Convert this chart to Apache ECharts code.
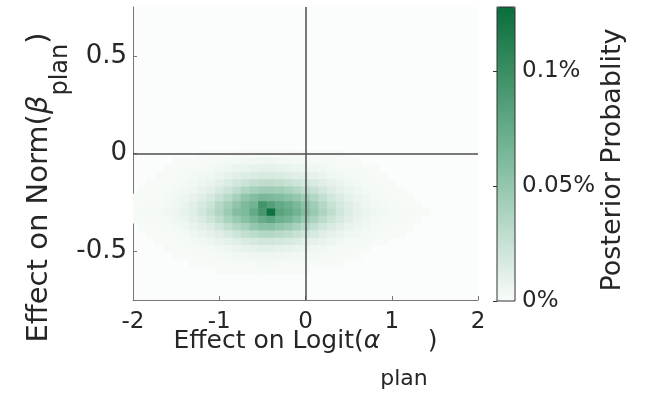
<!DOCTYPE html>
<html>
<head>
<meta charset="utf-8">
<script src="https://cdn.jsdelivr.net/npm/echarts@6/dist/echarts.min.js"></script>
<style>
    html, body {margin: 0; padding: 0; background: #fff;}
    #chart {width: 656px; height: 396px;}
</style>
</head>
<body>
<div id="chart"></div>
<script>
// bin centres of the 2-D posterior histogram
const xCenters = [-2.0, -1.9, -1.8, -1.7, -1.6, -1.5, -1.4, -1.3, -1.2, -1.1, -1.0, -0.9, -0.8, -0.7, -0.6, -0.5, -0.4, -0.3, -0.2, -0.1,
    0.0, 0.1, 0.2, 0.3, 0.4, 0.5, 0.6, 0.7, 0.8, 0.9, 1.0, 1.1, 1.2, 1.3, 1.4, 1.5, 1.6, 1.7, 1.8, 1.9, 2.0]
const yCenters = [0, -0.0375, -0.075, -0.1125, -0.15, -0.1875, -0.225, -0.2625, -0.3, -0.3375, -0.375, -0.4125, -0.45, -0.4875, -0.525, -0.5625, -0.6]

// posterior probability per bin, thousandths of a percent (one row per yCenters entry, columns follow xCenters)
const probRows = [
    [0, 0, 0, 0, 0, 0, 0, 0, 1, 1, 1, 1, 2, 2, 2, 2, 2, 2, 2, 2, 1, 1, 1, 1, 1, 0, 0, 0, 0, 0, 0, 0, 0, 0, 0, 0, 0],
    [0, 0, 0, 0, 0, 1, 1, 1, 1, 2, 2, 3, 3, 4, 4, 5, 5, 4, 4, 3, 3, 2, 2, 2, 1, 1, 1, 0, 0, 0, 0, 0, 0, 0, 0, 0, 0],
    [0, 0, 0, 0, 1, 1, 1, 2, 2, 3, 4, 5, 7, 8, 9, 10, 10, 9, 8, 7, 6, 5, 4, 3, 2, 2, 1, 1, 1, 0, 0, 0, 0, 0, 0, 0, 0],
    [0, 0, 0, 1, 1, 1, 2, 3, 4, 5, 7, 9, 12, 14, 16, 17, 17, 16, 14, 12, 11, 9, 7, 5, 4, 3, 2, 2, 1, 1, 0, 0, 0, 0, 0, 0, 0],
    [0, 0, 1, 1, 1, 2, 3, 4, 6, 8, 11, 15, 19, 23, 27, 29, 30, 28, 25, 22, 19, 16, 12, 9, 7, 5, 3, 2, 2, 1, 1, 0, 0, 0, 0, 0, 0],
    [0, 1, 1, 1, 2, 3, 4, 6, 9, 12, 17, 22, 29, 36, 41, 44, 45, 43, 39, 35, 30, 25, 19, 14, 10, 7, 5, 3, 2, 2, 1, 1, 0, 0, 0, 0, 0],
    [1, 1, 1, 2, 3, 4, 6, 9, 13, 18, 25, 32, 41, 52, 58, 64, 62, 60, 55, 50, 43, 35, 27, 20, 14, 10, 7, 5, 3, 2, 2, 1, 1, 0, 0, 0, 0],
    [1, 1, 2, 2, 3, 5, 8, 12, 17, 24, 33, 42, 52, 62, 68, 95, 85, 76, 71, 63, 54, 44, 34, 25, 18, 13, 9, 6, 4, 3, 2, 2, 1, 1, 0, 0, 0],
    [1, 2, 2, 3, 4, 6, 9, 13, 19, 27, 36, 46, 58, 62, 76, 92, 125, 82, 76, 68, 58, 48, 38, 29, 21, 15, 10, 7, 5, 4, 3, 2, 2, 1, 1, 0, 0],
    [1, 1, 2, 2, 3, 5, 7, 11, 16, 22, 30, 39, 48, 56, 64, 74, 80, 70, 66, 57, 48, 39, 31, 23, 17, 12, 8, 6, 4, 3, 2, 2, 1, 1, 0, 0, 0],
    [0, 1, 1, 2, 2, 3, 5, 8, 11, 15, 21, 28, 35, 40, 50, 55, 56, 51, 46, 40, 34, 27, 21, 16, 12, 8, 6, 4, 3, 2, 2, 1, 1, 0, 0, 0, 0],
    [0, 0, 1, 1, 1, 2, 3, 5, 7, 10, 13, 17, 22, 27, 31, 34, 35, 32, 29, 25, 21, 17, 13, 10, 7, 5, 4, 3, 2, 1, 1, 1, 0, 0, 0, 0, 0],
    [0, 0, 0, 1, 1, 1, 2, 3, 4, 6, 8, 10, 13, 16, 18, 20, 20, 19, 17, 15, 12, 10, 8, 6, 4, 3, 2, 2, 1, 1, 0, 0, 0, 0, 0, 0, 0],
    [0, 0, 0, 0, 1, 1, 1, 2, 2, 3, 4, 6, 7, 9, 10, 11, 11, 10, 9, 8, 7, 5, 4, 3, 2, 2, 1, 1, 0, 0, 0, 0, 0, 0, 0, 0, 0],
    [0, 0, 0, 0, 0, 1, 1, 1, 1, 2, 2, 3, 4, 4, 5, 5, 5, 5, 4, 4, 3, 3, 2, 2, 1, 1, 1, 0, 0, 0, 0, 0, 0, 0, 0, 0, 0],
    [0, 0, 0, 0, 0, 0, 0, 1, 1, 1, 1, 1, 2, 2, 2, 3, 3, 2, 2, 2, 2, 1, 1, 1, 1, 0, 0, 0, 0, 0, 0, 0, 0, 0, 0, 0, 0],
    [0, 0, 0, 0, 0, 0, 0, 0, 0, 0, 1, 1, 1, 1, 1, 1, 1, 1, 1, 1, 1, 0, 0, 0, 0, 0, 0, 0, 0, 0, 0, 0, 0, 0, 0, 0, 0]
]

const xTicks = [-2, -1, 0, 1, 2]
const yTicks = [-0.5, 0, 0.5]
const cbarTicks = [0, 0.05, 0.1]
const cbarMax = 0.128
const binW = 0.1
const binH = 0.0375

const font = 'DejaVu Sans'
const textColor = '#262626'
const axisGray = '#777'

const cells = []
probRows.forEach((row, r) => {
    row.forEach((v, c) => {
        if (v > 0) cells.push([xCenters[c], yCenters[r], v / 1000])
    })
})

const renderCell = (params, api) => {
    const x = api.value(0)
    const y = api.value(1)
    const p0 = api.coord([x - binW / 2, y + binH / 2])
    const p1 = api.coord([x + binW / 2, y - binH / 2])
    const rect = echarts.graphic.clipRectByRect({
        x: p0[0],
        y: p0[1],
        width: p1[0] - p0[0] + 0.5,
        height: p1[1] - p0[1] + 0.5
    }, {
        x: params.coordSys.x,
        y: params.coordSys.y,
        width: params.coordSys.width,
        height: params.coordSys.height
    })
    return rect && {
        type: 'rect',
        shape: rect,
        style: {fill: api.visual('color')}
    }
}

const chart = echarts.init(document.getElementById('chart'), null, {renderer: 'canvas'})

chart.setOption({
    animation: false,
    textStyle: {fontFamily: font, color: textColor},
    grid: [
        {left: 133, top: 7, width: 345, height: 293, show: true, borderWidth: 0, backgroundColor: '#fbfdfc'},
        {left: 497, top: 7, width: 18, height: 294, show: true, borderColor: '#333', borderWidth: 1, backgroundColor: 'transparent', z: 10}
    ],
    xAxis: [
        {
            type: 'value',
            gridIndex: 0,
            min: -2,
            max: 2,
            interval: 1,
            axisLine: {onZero: false, lineStyle: {color: axisGray, width: 1}},
            axisTick: {inside: true, length: 4, lineStyle: {color: axisGray}, customValues: xTicks},
            axisLabel: {fontSize: 23, color: textColor, margin: 11, fontFamily: font, customValues: xTicks},
            splitLine: {show: false},
            name: '{t|Effect on Logit(}{g|α}{s|plan}{t|)}',
            nameLocation: 'middle',
            nameGap: 29,
            nameMoveOverlap: false,
            nameTextStyle: {
                color: textColor,
                rich: {
                    t: {fontSize: 25, fontFamily: font, color: textColor, verticalAlign: 'middle', padding: [0, 0, 38, 0]},
                    g: {fontSize: 25, fontFamily: font, fontStyle: 'italic', color: textColor, verticalAlign: 'middle', padding: [0, 0, 38, 0]},
                    s: {fontSize: 22, fontFamily: font, color: textColor, verticalAlign: 'middle', padding: [38, 0, 0, 0]}
                }
            }
        },
        {type: 'value', gridIndex: 1, min: 0, max: 1, show: false}
    ],
    yAxis: [
        {
            type: 'value',
            gridIndex: 0,
            min: -0.75,
            max: 0.75,
            axisLine: {show: true, onZero: false, lineStyle: {color: axisGray, width: 1}},
            axisTick: {show: true, inside: true, length: 4, lineStyle: {color: axisGray}, customValues: yTicks},
            axisLabel: {fontSize: 26, color: textColor, margin: 6, fontFamily: font, customValues: yTicks},
            splitLine: {show: false},
            name: '{t|Effect on Norm(}{g|β}{s|plan}{t|)}',
            nameLocation: 'middle',
            nameRotate: 90,
            nameGap: 58,
            nameMoveOverlap: false,
            nameTextStyle: {
                color: textColor,
                padding: [0, 68, 0, 0],
                rich: {
                    t: {fontSize: 29, fontFamily: font, color: textColor, verticalAlign: 'middle', padding: [0, 0, 21, 0]},
                    g: {fontSize: 29, fontFamily: font, fontStyle: 'italic', color: textColor, verticalAlign: 'middle', padding: [0, 0, 21, 0]},
                    s: {fontSize: 24, fontFamily: font, color: textColor, verticalAlign: 'middle', padding: [21, 0, 0, 0]}
                }
            }
        },
        {
            type: 'value',
            gridIndex: 1,
            position: 'right',
            min: 0,
            max: cbarMax,
            axisLine: {show: false},
            axisTick: {show: true, inside: true, length: 4, lineStyle: {color: '#333'}, customValues: cbarTicks},
            axisLabel: {
                fontSize: 23,
                color: textColor,
                margin: 7,
                fontFamily: font,
                customValues: cbarTicks,
                formatter: v => v + '%'
            },
            splitLine: {show: false},
            name: 'Posterior Probablity',
            nameLocation: 'middle',
            nameRotate: 90,
            nameGap: 84,
            nameMoveOverlap: false,
            nameTextStyle: {fontSize: 27, fontFamily: font, color: textColor, padding: [0, 12, 0, 0]}
        }
    ],
    visualMap: {
        type: 'continuous',
        seriesIndex: 0,
        dimension: 2,
        min: 0,
        max: cbarMax,
        orient: 'vertical',
        left: 497,
        top: 7,
        itemWidth: 18,
        itemHeight: 294,
        padding: 0,
        calculable: false,
        hoverLink: false,
        showLabel: false,
        text: null,
        inRange: {color: ['#f9fcfa', '#78b898', '#0a6d3b']}
    },
    series: [
        {
            type: 'custom',
            xAxisIndex: 0,
            yAxisIndex: 0,
            renderItem: renderCell,
            encode: {x: 0, y: 1},
            data: cells,
            silent: true,
            markLine: {
                silent: true,
                symbol: 'none',
                label: {show: false},
                lineStyle: {color: '#4d4d4d', width: 1.5, type: 'solid'},
                data: [{xAxis: 0}, {yAxis: 0}]
            }
        }
    ]
})
</script>
</body>
</html>
